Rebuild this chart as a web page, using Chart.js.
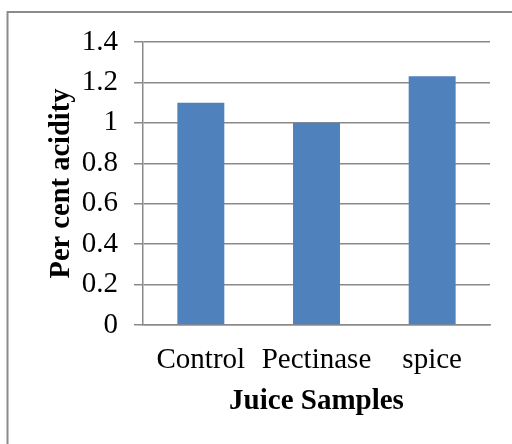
<!DOCTYPE html>
<html>
<head>
<meta charset="utf-8">
<script src="https://cdn.jsdelivr.net/npm/chart.js@4.4.1/dist/chart.umd.min.js"></script>
<style>
  html, body { margin: 0; padding: 0; background: #fff; }
  #wrap { position: relative; width: 512px; height: 444px; }
  canvas { display: block; }
</style>
</head>
<body>
<div id="wrap"><canvas id="c" width="512" height="444"></canvas></div>
<script>
// Per cent acidity of juice samples
const categories = ['Control', 'Pectinase', 'spice'];
const acidity = [1.1, 1.0, 1.23];
const yTickValues = [0, 0.2, 0.4, 0.6, 0.8, 1, 1.2, 1.4];
const yTickLabels = ['0', '0.2', '0.4', '0.6', '0.8', '1', '1.2', '1.4'];

const serif = '"Liberation Serif", "Times New Roman", serif';
const gridGray = '#8a8a8a';

// Thin frame around the figure
const framePlugin = {
  id: 'frame',
  beforeDraw(chart) {
    const ctx = chart.ctx;
    ctx.save();
    ctx.fillStyle = '#fff';
    ctx.fillRect(0, 0, chart.width, chart.height);
    ctx.strokeStyle = '#8c8c8c';
    ctx.lineWidth = 2;
    ctx.beginPath();
    ctx.moveTo(chart.width + 2, 12);
    ctx.lineTo(7.5, 12);
    ctx.lineTo(7.5, chart.height + 2);
    ctx.stroke();
    ctx.restore();
  }
};

new Chart(document.getElementById('c'), {
  type: 'bar',
  data: {
    labels: categories,
    datasets: [{
      data: acidity,
      backgroundColor: '#4f81bd',
      borderWidth: 0,
      categoryPercentage: 1,
      barPercentage: 0.406
    }]
  },
  options: {
    responsive: false,
    animation: false,
    devicePixelRatio: 1,
    layout: { padding: { left: 0, right: 22, top: 42, bottom: 0 } },
    plugins: { legend: { display: false }, tooltip: { enabled: false } },
    scales: {
      x: {
        afterFit(scale) { scale.height = 119; },
        grid: { display: false, drawTicks: false },
        border: { display: true, color: gridGray, width: 1.5 },
        ticks: {
          color: '#000',
          padding: 18,
          font: { family: serif, size: 29 }
        },
        title: {
          display: true,
          text: 'Juice Samples',
          color: '#000',
          padding: { top: 0, bottom: 25 },
          font: { family: serif, size: 29, weight: 'bold' }
        }
      },
      y: {
        min: 0,
        max: 1.4,
        afterFit(scale) { scale.width = 143; },
        afterBuildTicks(scale) {
          scale.ticks = yTickValues.map(v => ({ value: v }));
        },
        grid: {
          color: gridGray,
          lineWidth: 1.5,
          tickLength: 9,
          drawTicks: true
        },
        border: { display: true, color: gridGray, width: 1.5 },
        ticks: {
          color: '#000',
          padding: 16,
          font: { family: serif, size: 29 },
          callback(value) {
            const i = yTickValues.findIndex(v => Math.abs(v - value) < 1e-9);
            return i >= 0 ? yTickLabels[i] : '';
          }
        },
        title: {
          display: true,
          text: 'Per cent acidity',
          color: '#000',
          padding: { top: 45, bottom: 0 },
          font: { family: serif, size: 28.5, weight: 'bold' }
        }
      }
    }
  },
  plugins: [framePlugin]
});
</script>
</body>
</html>
